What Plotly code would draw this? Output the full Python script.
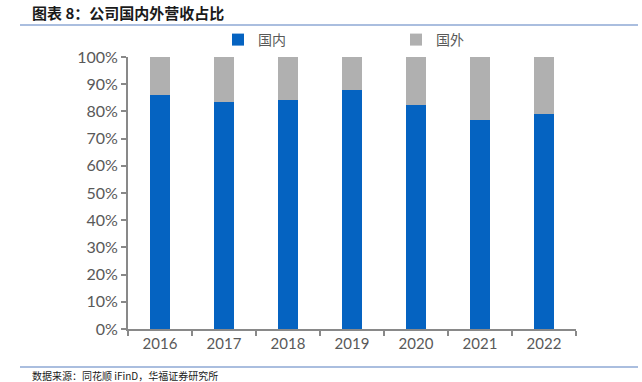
import plotly.graph_objects as go

years = ["2016", "2017", "2018", "2019", "2020", "2021", "2022"]
domestic = [85.9, 83.3, 84.1, 88.0, 82.3, 77.0, 79.0]
overseas = [14.1, 16.7, 15.9, 12.0, 17.7, 23.0, 21.0]
series_names = ["国内", "国外"]
y_ticks = [0, 10, 20, 30, 40, 50, 60, 70, 80, 90, 100]
y_tick_labels = [f"{v}%" for v in y_ticks]

BLUE = "#0563C1"
GRAY = "#B0B0B0"
AXIS = "#898989"
TXT = "#595959"
LINE = "#8EA9D4"

fig = go.Figure()
fig.add_trace(go.Bar(x=years, y=domestic, name=series_names[0], marker_color=BLUE,
                     marker_line_width=0))
fig.add_trace(go.Bar(x=years, y=overseas, name=series_names[1], marker_color=GRAY,
                     marker_line_width=0))

L, R, T, B = 128, 66, 57, 53
W, H = 642, 382
pw, ph = W - L - R, H - T - B

def px_x(p):
    return (p - L) / pw

def px_y(p):
    return (H - B - p) / ph

fig.update_layout(
    width=W, height=H,
    margin=dict(l=L, r=R, t=T, b=B),
    barmode="stack",
    bargap=0.69,
    plot_bgcolor="white",
    paper_bgcolor="white",
    font=dict(family="Lato, Noto Sans CJK SC, sans-serif", color=TXT, size=14),
    legend=dict(
        orientation="h",
        traceorder="normal",
        x=px_x(218), xanchor="left",
        y=px_y(40), yanchor="middle",
        entrywidth=133, entrywidthmode="pixels",
        itemwidth=30,
        font=dict(family="Noto Sans CJK SC", size=14, color=TXT),
        bgcolor="rgba(0,0,0,0)",
    ),
    xaxis=dict(
        type="category",
        showline=True, linecolor=AXIS, linewidth=2,
        ticks="outside", tickson="boundaries", ticklen=5, tickcolor=AXIS, tickwidth=2,
        tickfont=dict(size=15, color=TXT, family="Lato"),
        showgrid=False,
    ),
    yaxis=dict(
        range=[0, 100],
        tickvals=y_ticks, ticktext=y_tick_labels,
        showline=True, linecolor=AXIS, linewidth=2,
        ticks="outside", ticklen=5, tickcolor=AXIS, tickwidth=2,
        tickfont=dict(size=16, color=TXT, family="Lato"),
        showgrid=False, zeroline=False,
    ),
)

# header title and rules
fig.add_annotation(
    text="<b>图表 8：公司国内外营收占比</b>",
    xref="paper", yref="paper", x=px_x(30), y=px_y(13), xanchor="left", yanchor="middle",
    showarrow=False, font=dict(family="Noto Sans CJK SC", size=15, color="#1a1a1a"),
)
fig.add_shape(type="line", xref="paper", yref="paper",
              x0=px_x(20), x1=px_x(638), y0=px_y(25), y1=px_y(25),
              line=dict(color=LINE, width=1.5))
fig.add_shape(type="line", xref="paper", yref="paper",
              x0=px_x(20), x1=px_x(638), y0=px_y(367), y1=px_y(367),
              line=dict(color=LINE, width=1.5))
fig.add_annotation(
    text="数据来源：同花顺 iFinD，华福证券研究所",
    xref="paper", yref="paper", x=px_x(30), y=px_y(375), xanchor="left", yanchor="middle",
    showarrow=False, font=dict(family="Noto Sans CJK SC", size=10, color="#1a1a1a"),
)

fig.write_html("out.html",
               config={"displayModeBar": False},
               post_script="document.body.style.margin='0';document.body.style.overflow='hidden';")
